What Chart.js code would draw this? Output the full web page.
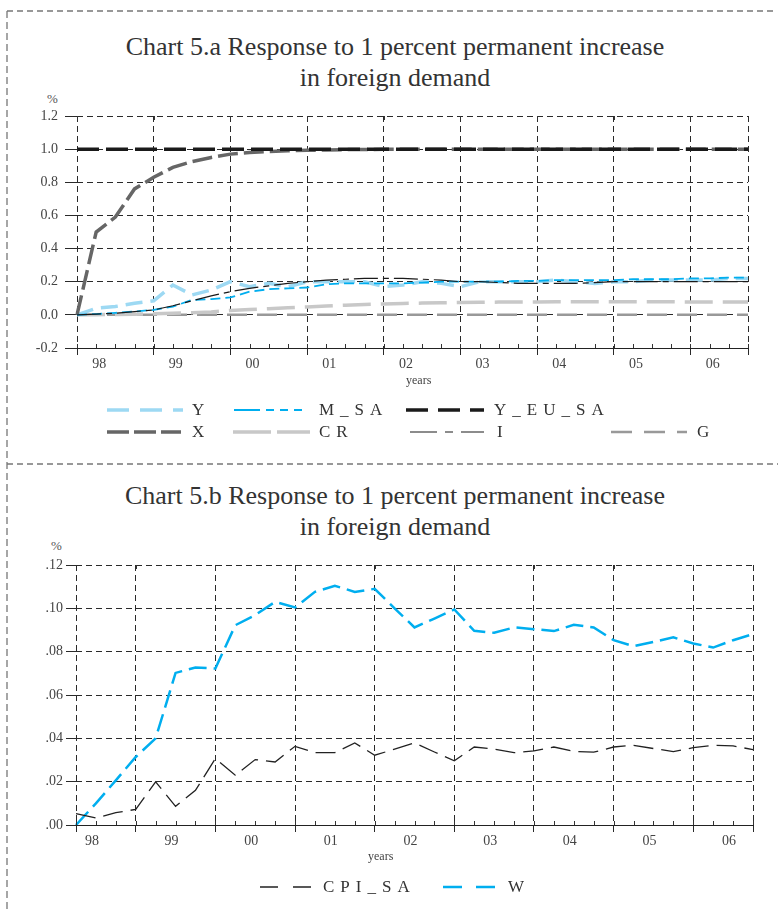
<!DOCTYPE html>
<html>
<head>
<meta charset="utf-8">
<script src="https://cdn.jsdelivr.net/npm/chart.js@4.4.1/dist/chart.umd.min.js"></script>
<style>
  body { margin: 0; width: 778px; height: 912px; position: relative; background: #fff; overflow: hidden;
         font-family: 'Liberation Serif', 'DejaVu Serif', serif; color: #333; }
  canvas { position: absolute; left: 0; }
  .title { position: absolute; left: 0; width: 790px; text-align: center; font-size: 26px; line-height: 31px; color: #333; }
  .unit { position: absolute; font-size: 13px; color: #555; }
  .years { position: absolute; font-size: 12px; color: #444; }
  .leg-text { position: absolute; font-size: 17px; line-height: 20px; letter-spacing: 6px; color: #333; white-space: nowrap; }
  .leg-line { position: absolute; overflow: visible; }
  #frame { position: absolute; left: 0; top: 0; }
</style>
</head>
<body>
<svg id="frame" width="778" height="912">
  <line x1="7" y1="11" x2="776" y2="11" stroke="#777" stroke-width="1.3" stroke-dasharray="6 4"/>
  <line x1="7" y1="11" x2="7" y2="912" stroke="#777" stroke-width="1.3" stroke-dasharray="7 4"/>
  <line x1="7" y1="464" x2="778" y2="464" stroke="#777" stroke-width="1.3" stroke-dasharray="6 4"/>
</svg>

<div class="title" style="top:31px">Chart 5.a Response to 1 percent permanent increase</div>
<div class="title" style="top:62px">in foreign demand</div>
<div class="unit" style="left:47px; top:91px">%</div>
<canvas id="chartA" width="778" height="278" style="top:100px"></canvas>
<div class="years" style="left:406px; top:373px">years</div>

<div class="title" style="top:480px">Chart 5.b Response to 1 percent permanent increase</div>
<div class="title" style="top:511px">in foreign demand</div>
<div class="unit" style="left:51px; top:538px">%</div>
<canvas id="chartB" width="778" height="305" style="top:550px"></canvas>
<div class="years" style="left:368px; top:849px">years</div>

<script>
// categories: quarters
const years = ['1998', '1999', '2000', '2001', '2002', '2003', '2004', '2005', '2006'];
const quarterNames = ['Q1', 'Q2', 'Q3', 'Q4'];
const quartersA = years.flatMap(y => quarterNames.map(q => y + q));   // 1998Q1 .. 2006Q4
const quartersB = quartersA.slice(1);                                 // 1998Q2 .. 2006Q4

// y tick labels
const yTicksA = [-0.2, 0, 0.2, 0.4, 0.6, 0.8, 1.0, 1.2];
const yTicksB = [0, 0.02, 0.04, 0.06, 0.08, 0.10, 0.12];

// Chart 5.a series (1998Q1 .. 2006Q4)
const yA = [0, 0.04, 0.05, 0.07, 0.085, 0.18, 0.12, 0.15, 0.20, 0.17, 0.19, 0.17,
            0.20, 0.20, 0.20, 0.20, 0.17, 0.18, 0.20, 0.19, 0.17, 0.20, 0.20, 0.20,
            0.20, 0.21, 0.20, 0.19, 0.20, 0.20, 0.21, 0.21, 0.21, 0.21, 0.22, 0.22];
const mSaA = [0, 0.005, 0.012, 0.02, 0.03, 0.05, 0.09, 0.095, 0.105, 0.14, 0.155, 0.16,
              0.165, 0.185, 0.19, 0.19, 0.19, 0.19, 0.195, 0.2, 0.2, 0.2, 0.2, 0.205,
              0.205, 0.21, 0.21, 0.21, 0.21, 0.215, 0.215, 0.215, 0.22, 0.22, 0.225, 0.225];
const yEuSaA = [1, 1, 1, 1, 1, 1, 1, 1, 1, 1, 1, 1, 1, 1, 1, 1, 1, 1,
                1, 1, 1, 1, 1, 1, 1, 1, 1, 1, 1, 1, 1, 1, 1, 1, 1, 1];
const xA = [0, 0.50, 0.59, 0.76, 0.83, 0.89, 0.925, 0.95, 0.97, 0.98, 0.986, 0.99,
            0.993, 0.995, 0.997, 0.998, 0.999, 1, 1, 1, 1, 1, 1, 1,
            1, 1, 1, 1, 1, 1, 1, 1, 1, 1, 1, 1];
const crA = [0, 0.001, 0.002, 0.004, 0.006, 0.009, 0.013, 0.018, 0.027, 0.032, 0.037, 0.043,
             0.048, 0.053, 0.058, 0.062, 0.066, 0.069, 0.071, 0.073, 0.075, 0.076, 0.077, 0.078,
             0.078, 0.079, 0.079, 0.079, 0.079, 0.079, 0.079, 0.079, 0.078, 0.078, 0.078, 0.078];
const iA = [0, 0.005, 0.01, 0.02, 0.03, 0.055, 0.085, 0.115, 0.14, 0.16, 0.175, 0.19,
            0.2, 0.21, 0.215, 0.22, 0.22, 0.22, 0.215, 0.21, 0.2, 0.2, 0.195, 0.19,
            0.19, 0.19, 0.19, 0.195, 0.2, 0.2, 0.2, 0.2, 0.2, 0.2, 0.2, 0.2];
const gA = [0, 0, 0, 0, 0, 0, 0, 0, 0, 0, 0, 0, 0, 0, 0, 0, 0, 0,
            0, 0, 0, 0, 0, 0, 0, 0, 0, 0, 0, 0, 0, 0, 0, 0, 0, 0];

// Chart 5.b series (1998Q2 .. 2006Q4)
const cpiSaB = [0.0053, 0.0032, 0.0057, 0.0072, 0.0199, 0.0086, 0.016, 0.0307, 0.023, 0.0302, 0.0291, 0.0363,
                0.0334, 0.0334, 0.0379, 0.0322, 0.035, 0.0379, 0.0337, 0.0296, 0.036, 0.035, 0.0334, 0.0342,
                0.036, 0.034, 0.0336, 0.036, 0.0368, 0.0353, 0.0339, 0.0357, 0.0368, 0.0365, 0.0348];
const wB = [0, 0.01, 0.0206, 0.0314, 0.04, 0.0702, 0.0727, 0.0722, 0.0922, 0.0969, 0.103, 0.1004,
            0.1076, 0.1104, 0.1076, 0.109, 0.1, 0.0912, 0.0953, 0.0995, 0.0896, 0.0887, 0.0912, 0.0904,
            0.0895, 0.0924, 0.0912, 0.0853, 0.0825, 0.0845, 0.0866, 0.0838, 0.0819, 0.0853, 0.0881];

const TICK_FONT = { family: "'Liberation Serif', serif", size: 14 };
const GRID_COLOR = '#2a2a2a';

// first dataset is drawn on top
const seriesA = [
  { label: 'I',       data: iA,     color: '#1a1a1a', width: 1.2, dash: [24, 5, 6, 5], legend: { x1: 410, x2: 484, tx: 497, y: 432, dash: '27 8 8 8' } },
  { label: 'M_SA',    data: mSaA,   color: '#00aeef', width: 1.8, dash: [10, 5],        legend: { x1: 234, x2: 309, tx: 319, y: 410, dash: '26 6 8 6 8 6 8' } },
  { label: 'Y_EU_SA', data: yEuSaA, color: '#1a1a1a', width: 3.5, dash: [22, 7],        legend: { x1: 406, x2: 484, tx: 494, y: 410, dash: '22 10' } },
  { label: 'X',       data: xA,     color: '#666666', width: 3.5, dash: [20, 6],        legend: { x1: 107, x2: 181, tx: 192, y: 432, dash: '22 5' } },
  { label: 'Y',       data: yA,     color: '#9dd9f3', width: 3.5, dash: [17, 8],        legend: { x1: 107, x2: 183, tx: 192, y: 410, dash: '22 11' } },
  { label: 'CR',      data: crA,    color: '#c8c8c8', width: 3.5, dash: [28, 10],       legend: { x1: 233, x2: 310, tx: 319, y: 432, dash: '38 6' } },
  { label: 'G',       data: gA,     color: '#999999', width: 2.5, dash: [20, 10],       legend: { x1: 611, x2: 687, tx: 697, y: 432, dash: '21 12' } }
];
const seriesB = [
  { label: 'CPI_SA', data: cpiSaB, color: '#222222', width: 1.3, dash: [20, 8], legend: { x1: 260, x2: 312, tx: 323, y: 887, dash: '18 15' } },
  { label: 'W',      data: wB,     color: '#00aeef', width: 2.5, dash: [18, 7], legend: { x1: 443, x2: 497, tx: 508, y: 887, dash: '19 14' } }
];

// small quarterly ticks inside the bottom axis, year ticks under the top border
const quarterTicks = {
  id: 'quarterTicks',
  afterDraw(chart) {
    const xs = chart.scales.x;
    const area = chart.chartArea;
    const ctx = chart.ctx;
    ctx.save();
    ctx.strokeStyle = '#333';
    ctx.lineWidth = 1;
    ctx.beginPath();
    xs.ticks.forEach((t, i) => {
      const px = Math.round(xs.getPixelForTick(i)) + 0.5;
      ctx.moveTo(px, area.bottom);
      ctx.lineTo(px, area.bottom - 4);
      if (xs.getLabelForValue(t.value).endsWith('Q1')) {
        ctx.moveTo(px, area.top);
        ctx.lineTo(px, area.top + 4);
      }
    });
    ctx.stroke();
    ctx.restore();
  }
};

function makeChart(id, quarters, series, opts) {
  const isGridTick = (ctx) => {
    const lbl = quarters[ctx.index];
    return ctx.index === 0 || ctx.index === quarters.length - 1 || (lbl && lbl.endsWith('Q1'));
  };
  return new Chart(document.getElementById(id), {
    type: 'line',
    data: {
      labels: quarters,
      datasets: series.map(s => ({
        label: s.label,
        data: s.data,
        borderColor: s.color,
        borderWidth: s.width,
        borderDash: s.dash,
        pointRadius: 0,
        tension: 0,
        fill: false
      }))
    },
    options: {
      responsive: false,
      animation: false,
      devicePixelRatio: 1,
      layout: { padding: opts.padding },
      plugins: { legend: { display: false }, tooltip: { enabled: false } },
      scales: {
        x: {
          offset: false,
          border: { display: true, color: '#222', width: 1, dash: [6, 4] },
          grid: {
            color: ctx => isGridTick(ctx) ? GRID_COLOR : 'rgba(0,0,0,0)',
            tickColor: ctx => isGridTick(ctx) ? GRID_COLOR : 'rgba(0,0,0,0)',
            tickLength: 7,
            lineWidth: 1
          },
          ticks: {
            autoSkip: false,
            maxRotation: 0,
            font: TICK_FONT,
            color: '#444',
            padding: 1,
            labelOffset: opts.labelOffset,
            callback: function (value) {
              const lbl = this.getLabelForValue(value);
              return lbl.endsWith(opts.labelQuarter) ? lbl.slice(2, 4) : '';
            }
          },
          afterFit: s => { s.height = 30; }
        },
        y: {
          min: opts.yTicks[0],
          max: opts.yTicks[opts.yTicks.length - 1],
          afterBuildTicks: s => { s.ticks = opts.yTicks.map(v => ({ value: v })); },
          border: { display: false, dash: [6, 4] },
          grid: { color: GRID_COLOR, lineWidth: 1, tickLength: opts.yTickLength },
          ticks: {
            font: TICK_FONT,
            color: '#444',
            padding: opts.yPadding,
            callback: opts.yFormat
          },
          afterFit: s => { s.width = opts.yWidth; }
        }
      }
    },
    plugins: [quarterTicks]
  });
}

makeChart('chartA', quartersA, seriesA, {
  padding: { top: 16, right: 30, left: 0, bottom: 0 },
  yTicks: yTicksA,
  yWidth: 77,
  yTickLength: 12,
  yPadding: 7,
  yFormat: v => v.toFixed(1),
  labelQuarter: 'Q2',
  labelOffset: 3
});

makeChart('chartB', quartersB, seriesB, {
  padding: { top: 15, right: 25, left: 0, bottom: 0 },
  yTicks: yTicksB,
  yWidth: 76,
  yTickLength: 10,
  yPadding: 3,
  yFormat: v => v.toFixed(2).replace(/^0/, ''),
  labelQuarter: 'Q3',
  labelOffset: -4
});

// html legends drawn from the series definitions
function addLegend(series) {
  series.forEach(s => {
    const L = s.legend;
    const svgNS = 'http://www.w3.org/2000/svg';
    const svg = document.createElementNS(svgNS, 'svg');
    svg.setAttribute('class', 'leg-line');
    svg.setAttribute('width', L.x2 - L.x1);
    svg.setAttribute('height', 8);
    svg.style.left = L.x1 + 'px';
    svg.style.top = (L.y - 4) + 'px';
    const line = document.createElementNS(svgNS, 'line');
    line.setAttribute('x1', 0);
    line.setAttribute('y1', 4);
    line.setAttribute('x2', L.x2 - L.x1);
    line.setAttribute('y2', 4);
    line.setAttribute('stroke', s.color);
    line.setAttribute('stroke-width', s.width);
    line.setAttribute('stroke-dasharray', L.dash);
    svg.appendChild(line);
    document.body.appendChild(svg);

    const txt = document.createElement('div');
    txt.className = 'leg-text';
    txt.textContent = s.label;
    txt.style.left = L.tx + 'px';
    txt.style.top = (L.y - 10) + 'px';
    document.body.appendChild(txt);
  });
}
addLegend(seriesA);
addLegend(seriesB);
</script>
</body>
</html>
